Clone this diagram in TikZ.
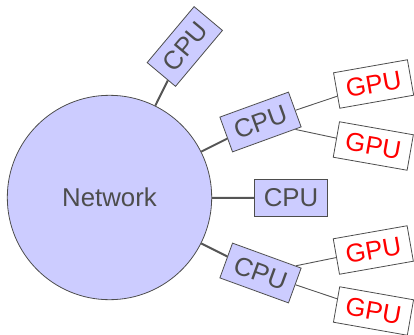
\documentclass[tikz,border=0pt]{standalone}
\usepackage{fontspec}
\setmainfont{Liberation Sans}
\definecolor{lav}{RGB}{204,204,255}
\definecolor{dgray}{RGB}{77,77,77}
\definecolor{lgray}{RGB}{85,85,85}
\begin{document}
\begin{tikzpicture}[x=1pt,y=-1pt,
  every node/.style={font=\fontsize{25.8}{30}\selectfont, inner sep=0pt},
  cpubox/.style={draw=dgray, line width=0.8pt, fill=lav, text=dgray, minimum width=73pt, minimum height=37pt},
  gpubox/.style={draw=dgray, line width=0.8pt, fill=white, text=red, minimum width=75pt, minimum height=36pt},
  thick link/.style={draw=lgray, line width=2pt},
  thin link/.style={draw=lgray, line width=0.9pt}]
\useasboundingbox (0,0) rectangle (414,334);
\node[circle, draw=dgray, line width=0.8pt, fill=lav, text=dgray, minimum size=204.4pt] (net) at (109.5,197.5) {Network};
\node[cpubox, rotate=50] (c1) at (184.8,46.5) {CPU};
\node[cpubox, rotate=20] (c2) at (260.5,122) {CPU};
\node[cpubox] (c3) at (291,198) {CPU};
\node[cpubox, rotate=-20] (c4) at (260.5,273) {CPU};
\node[gpubox, rotate=10] (g1) at (373.6,84) {GPU};
\node[gpubox, rotate=-10] (g2) at (373.3,146) {GPU};
\node[gpubox, rotate=10] (g3) at (373.3,250) {GPU};
\node[gpubox, rotate=-10] (g4) at (373.5,311) {GPU};
\path[thick link] (net) -- (c1);
\path[thick link] (net) -- (c2);
\path[thick link] (net) -- (c3);
\path[thick link] (net) -- (c4);
\path[thin link] (c2) -- (g1);
\path[thin link] (c2) -- (g2);
\path[thin link] (c4) -- (g3);
\path[thin link] (c4) -- (g4);
\end{tikzpicture}
\end{document}
